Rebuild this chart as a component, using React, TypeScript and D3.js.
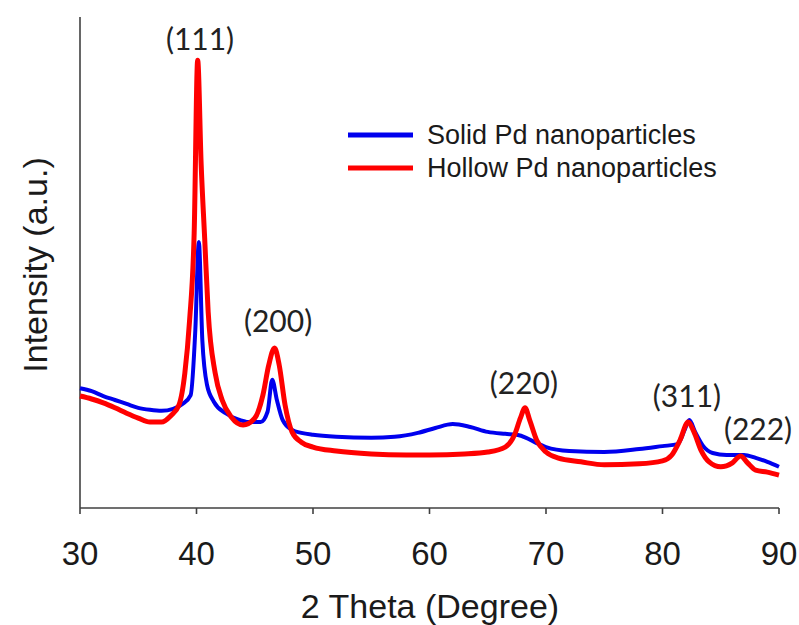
import React from "react";
import * as d3 from "d3";

const hollowX = [30, 31, 32, 33, 34, 35, 36, 37, 37.8, 38.5, 39.0, 39.4, 39.8, 40.1, 40.4, 40.7, 41.0, 41.6, 42.2, 43, 44, 45, 45.7, 46.2, 46.7, 47.1, 47.6, 48.2, 49, 50, 52, 55, 58, 60, 63, 65, 66.5, 67.3, 67.8, 68.2, 68.6, 69.2, 70, 71, 73, 75, 78, 80, 80.8, 81.5, 82.2, 82.7, 83.3, 84, 85, 86, 86.7, 87.3, 88, 89, 90];
const hollowY = [22.8, 22.2, 21.4, 20.4, 19.3, 18.3, 17.5, 17.5, 18.8, 21.0, 27.5, 38.0, 56.0, 91.2, 70.0, 55.0, 40.0, 27.5, 22.0, 18.5, 16.9, 18.3, 23.0, 29.1, 32.6, 29.1, 21.0, 15.5, 13.4, 12.4, 11.6, 11.0, 10.8, 10.8, 11.0, 11.4, 12.4, 14.9, 18.3, 20.4, 17.9, 13.8, 11.4, 10.2, 9.4, 8.8, 9.0, 9.6, 10.8, 13.8, 17.5, 15.5, 11.8, 9.4, 8.4, 9.2, 10.6, 9.2, 7.7, 7.3, 6.7];

const solidX = [30, 31, 32, 33, 34, 35, 36, 37, 38, 38.8, 39.5, 39.9, 40.2, 40.5, 40.9, 41.5, 42.5, 43.5, 44.5, 45.5, 46.1, 46.5, 46.9, 47.4, 48.2, 49, 50, 52, 55, 57, 59, 60.5, 62, 63.5, 65, 66.5, 67.5, 68.3, 69.2, 70, 72, 75, 78, 80, 81.3, 81.9, 82.3, 82.8, 83.5, 84.3, 85.5, 87, 88, 89, 90];
const solidY = [24.4, 23.8, 22.8, 22.0, 21.2, 20.4, 20.0, 19.8, 20.2, 21.2, 23.0, 36.3, 54.2, 34.2, 25.1, 21.6, 19.3, 18.1, 17.5, 17.5, 19.6, 26.1, 22.0, 17.9, 15.9, 15.3, 14.9, 14.5, 14.3, 14.5, 15.3, 16.3, 17.1, 16.5, 15.5, 15.1, 14.9, 14.3, 13.2, 12.4, 11.6, 11.4, 12.0, 12.6, 13.0, 15.9, 17.9, 15.5, 12.6, 11.2, 10.8, 10.8, 10.2, 9.4, 8.4];

const xTicks = [30, 40, 50, 60, 70, 80, 90];

const peakLabels = ["(111)", "(200)", "(220)", "(311)", "(222)"];
const peakLabelX = [40.3, 47.0, 68.1, 82.1, 88.2];
const peakLabelY = [93.2, 35.8, 23.2, 20.6, 13.8];

const seriesNames = ["Solid Pd nanoparticles", "Hollow Pd nanoparticles"];
const seriesColors = ["#0000ee", "#ff0000"];

export default function App() {
  const W = 799, H = 625;
  const x = d3.scaleLinear().domain([30, 90]).range([80, 779]);
  const y = d3.scaleLinear().domain([0, 100]).range([508, 17]);
  const line = d3
    .line<[number, number]>()
    .x((d) => x(d[0]))
    .y((d) => y(d[1]))
    .curve(d3.curveMonotoneX);
  const solid = solidX.map((v, i) => [v, solidY[i]] as [number, number]);
  const hollow = hollowX.map((v, i) => [v, hollowY[i]] as [number, number]);
  const axisColor = "#404040";
  const sans = "'Liberation Sans', Arial, sans-serif";
  return (
    <svg
      width={W}
      height={H}
      style={{ position: "absolute", left: 0, top: 0, background: "#fff" }}
    >
      <rect x={0} y={0} width={W} height={H} fill="#fff" />
      {/* axes */}
      <line x1={x(30)} x2={x(30)} y1={y(100)} y2={y(0)} stroke={axisColor} strokeWidth={1.6} />
      <line x1={x(30)} x2={x(90)} y1={y(0)} y2={y(0)} stroke={axisColor} strokeWidth={1.6} />
      {xTicks.map((t) => (
        <g key={t}>
          <line x1={x(t)} x2={x(t)} y1={y(0)} y2={y(0) + 6} stroke={axisColor} strokeWidth={1.6} />
          <text x={x(t)} y={565} textAnchor="middle" fontFamily={sans} fontSize={33} fill="#1a1a1a">
            {t}
          </text>
        </g>
      ))}
      <text x={430} y={618} textAnchor="middle" fontFamily={sans} fontSize={34} fill="#1a1a1a">
        2 Theta (Degree)
      </text>
      <text
        transform={`translate(47,265) rotate(-90)`}
        textAnchor="middle"
        fontFamily={sans}
        fontSize={34}
        fill="#1a1a1a"
      >
        Intensity (a.u.)
      </text>
      {/* series */}
      <path d={line(solid) || ""} fill="none" stroke={seriesColors[0]} strokeWidth={4} strokeLinejoin="round" />
      <path d={line(hollow) || ""} fill="none" stroke={seriesColors[1]} strokeWidth={5} strokeLinejoin="round" />
      {/* peak labels */}
      {peakLabels.map((l, i) => (
        <text
          key={l}
          x={x(peakLabelX[i])}
          y={y(peakLabelY[i])}
          textAnchor="middle"
          fontFamily="Lato, 'Open Sans', sans-serif"
          fontSize={30}
          fill="#222"
        >
          {l}
        </text>
      ))}
      {/* legend */}
      {seriesNames.map((n, i) => (
        <g key={n} transform={`translate(348,${135 + i * 33})`}>
          <line x1={0} x2={65} y1={0} y2={0} stroke={seriesColors[i]} strokeWidth={5} />
          <text x={79} y={9} fontFamily={sans} fontSize={27} fill="#1a1a1a">
            {n}
          </text>
        </g>
      ))}
    </svg>
  );
}
